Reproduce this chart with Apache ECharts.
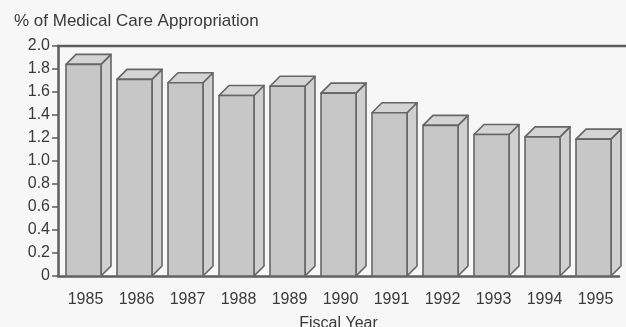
<!DOCTYPE html>
<html>
<head>
<meta charset="utf-8">
<script src="https://cdn.jsdelivr.net/npm/echarts@6/dist/echarts.min.js"></script>
<style>
  html, body { margin: 0; padding: 0; background: #f7f7f7; }
  #chart { width: 626px; height: 327px; }
</style>
</head>
<body>
<div id="chart"></div>
<script>
// Fiscal years on the category axis
const fiscalYears = ['1985', '1986', '1987', '1988', '1989', '1990', '1991', '1992', '1993', '1994', '1995'];
// Share of the medical care appropriation, in percent
const appropriationShare = [1.84, 1.71, 1.68, 1.57, 1.65, 1.59, 1.42, 1.31, 1.23, 1.21, 1.19];
// Value axis ticks
const yTickValues = [0, 0.2, 0.4, 0.6, 0.8, 1.0, 1.2, 1.4, 1.6, 1.8, 2.0];

const TEXT = '#3a3a3a';
const LINE = '#5e5e5e';
const FONT = '"Liberation Sans", Arial, Helvetica, sans-serif';
const GRID_LEFT = 58;

const chart = echarts.init(document.getElementById('chart'), null, { renderer: 'canvas' });

// Draws one bar as a box: front face, right side face and top face
function renderBox(params, api) {
  const idx = api.value(0);
  const val = api.value(1);
  const topPt = api.coord([idx, val]);
  const basePt = api.coord([idx, 0]);
  const band = api.size([1, 0])[0];
  const w = band * 35 / 51;
  const d = band * 10 / 51;
  const x0 = topPt[0] - w / 2;
  const x1 = topPt[0] + w / 2;
  const yT = topPt[1];
  const yB = basePt[1];
  const edge = { stroke: '#666666', lineWidth: 1.6, lineJoin: 'round' };
  return {
    type: 'group',
    children: [
      {
        type: 'polygon',
        shape: { points: [[x1, yT], [x1 + d, yT - d], [x1 + d, yB - d], [x1, yB]] },
        style: Object.assign({ fill: '#d0d0d0' }, edge)
      },
      {
        type: 'polygon',
        shape: { points: [[x0, yT], [x0 + d, yT - d], [x1 + d, yT - d], [x1, yT]] },
        style: Object.assign({ fill: '#d4d4d4' }, edge)
      },
      {
        type: 'rect',
        shape: { x: x0, y: yT, width: w, height: yB - yT },
        style: Object.assign({ fill: '#c7c7c7' }, edge)
      }
    ]
  };
}

chart.setOption({
  animation: false,
  backgroundColor: '#f7f7f7',
  textStyle: { fontFamily: FONT },
  title: {
    text: '% of Medical Care Appropriation',
    left: 9,
    top: 8,
    textStyle: { fontFamily: FONT, fontSize: 17, fontWeight: 'normal', color: TEXT }
  },
  grid: { left: GRID_LEFT, right: 7, top: 46, bottom: 51, containLabel: false, outerBoundsMode: 'none' },
  xAxis: {
    type: 'category',
    data: fiscalYears,
    name: 'Fiscal Year',
    nameLocation: 'middle',
    nameGap: 40,
    nameTextStyle: { fontFamily: FONT, fontSize: 16, color: TEXT },
    axisLine: { show: true, lineStyle: { color: LINE, width: 2.5 } },
    axisTick: { show: false },
    axisLabel: { fontFamily: FONT, fontSize: 16, color: TEXT, margin: 16, padding: [0, 0, 0, 4] },
    splitLine: { show: false }
  },
  yAxis: {
    type: 'value',
    min: 0,
    max: 2,
    interval: 0.2,
    axisLine: { show: true, lineStyle: { color: LINE, width: 2.5 } },
    axisTick: { show: true, length: 6, lineStyle: { color: LINE, width: 1.5 } },
    axisLabel: {
      fontFamily: FONT,
      fontSize: 16,
      color: TEXT,
      margin: 8,
      formatter: function (v) {
        const t = yTickValues.find(function (k) { return Math.abs(k - v) < 1e-9; });
        if (t === undefined) return '';
        return t === 0 ? '0' : t.toFixed(1);
      }
    },
    splitLine: { show: false }
  },
  series: [{
    type: 'custom',
    renderItem: renderBox,
    encode: { x: 0, y: 1 },
    data: appropriationShare.map(function (v, i) { return [i, v]; }),
    clip: false
  }]
});

// Top frame line at the axis maximum, running to the right edge
const topY = chart.convertToPixel({ yAxisIndex: 0 }, 2);
chart.setOption({
  graphic: [{
    type: 'line',
    shape: { x1: GRID_LEFT - 1, y1: topY, x2: chart.getWidth(), y2: topY },
    style: { stroke: LINE, lineWidth: 2.5 },
    z: 10
  }]
});
</script>
</body>
</html>
